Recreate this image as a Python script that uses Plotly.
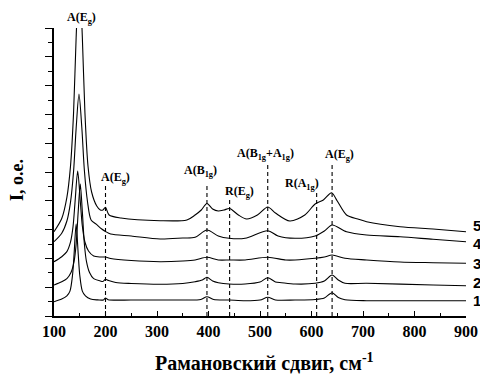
import plotly.graph_objects as go

# Raman spectra (arbitrary intensity units, curves offset vertically)
x1 = [100,115,125,131,136,139,143,147,150,155,161,171,185,196,200,205,250,306,350,385,397,410,440,471,500,515,530,568,607,625,640,652,665,707,800,900]
y1 = [14.3,16.9,20.1,24.9,41,62,92,62,41,24.9,20.1,16.9,16.1,16,18,16.3,16,16,16,16.5,19.3,16.5,16,15.3,16,18.7,16,16,16.5,18,23.3,18.5,16.3,15.3,15.3,15.3]

x2 = [100,115,125,133,139,143,147,151,155,159,163,169,177,190,195,200,206,220,250,306,350,374,388,397,408,419,440,471,500,515,530,542,568,607,625,640,652,665,707,836,900]
y2 = [31,34.2,37.4,43.5,54.7,71.8,104.5,132,104.5,71.8,54.7,43.5,37.4,35,34.5,36.7,35.5,33.5,32.5,31.7,32.5,34.3,36,38.7,35,33.3,32,32,34,38.3,34,33.3,32,32.7,35,41,36,32.7,32.7,31,30.3]

x3 = [100,115,125,132,137,141,146,151,155,160,167,177,190,200,210,250,306,350,374,397,419,441,471,515,550,568,607,625,640,665,707,772,836,900]
y3 = [54.3,59.3,64.4,73.8,89.6,114.9,145,115,90,74,65,60,59,59,57.5,55.5,54.3,55,56,58.7,56,56,56,58.7,56,56,57.7,59,61,57.7,56,54,53.3,52.7]

x4 = [100,115,125,132,138,143,148.5,154,159,165,172,182,192,200,210,250,306,350,374,397,419,440,471,515,535,568,607,625,640,668,707,772,836,900]
y4 = [74.3,82.8,95,113.7,144.6,187.6,222,188.5,145.5,114.5,96,91.8,87.2,84.5,82,80,77,78,78.7,86,80,77.7,77.7,85.3,80,77.7,80,85,91,84.3,81,79.3,76.7,74.3]

x5 = [100,115,125,132,138,143,149,155,160,166,173,183,190,195,200,207,230,306,358,374,386,397,408,419,430,441,458,474,495,515,530,558,587,607,623,639,650,668,690,707,772,836,900]
y5 = [84.3,97.5,118.6,149.6,203.4,278.4,345,279,204,150,124,110,106,106,108.7,101,98,95.3,96,101,106,112.5,107,105,106,107.5,101,97,101,109,103,95,101,112,116,123.3,115,101,97,94.3,89.3,87,84.3]

series_x = [x1, x2, x3, x4, x5]
series_y = [y1, y2, y3, y4, y5]
series_names = ["1", "2", "3", "4", "5"]
series_label_y = [16, 34, 53, 73, 91]

# Band positions (dashed markers) and their top heights
band_x = [200, 397, 441, 515, 610, 640]
band_top = [131, 131, 116, 151, 124, 154]

# Band labels
label_text = ["A(E<sub>g</sub>)", "A(E<sub>g</sub>)", "A(B<sub>1g</sub>)", "R(E<sub>g</sub>)",
              "A(B<sub>1g</sub>+A<sub>1g</sub>)", "R(A<sub>1g</sub>)", "A(E<sub>g</sub>)"]
label_x = [154, 219, 385, 461, 511, 582, 655]
label_y = [298, 138, 145, 124, 162, 132, 161]

x_ticks = [100, 200, 300, 400, 500, 600, 700, 800, 900]
Y_MAX = 288

SERIF = "Liberation Serif, Times New Roman, serif"
SANS = "Liberation Sans, Arial, sans-serif"

fig = go.Figure()
for xs, ys, nm in zip(series_x, series_y, series_names):
    fig.add_trace(go.Scatter(x=xs, y=ys, mode="lines", name=nm,
                             line=dict(color="black", width=1.1, shape="spline", smoothing=0.8),
                             showlegend=False, hoverinfo="skip"))

for bx, bt in zip(band_x, band_top):
    fig.add_shape(type="line", xref="x", yref="y", x0=bx, x1=bx, y0=0, y1=bt,
                  line=dict(color="black", width=1.1, dash="4px,3px"))

for t, lx, ly in zip(label_text, label_x, label_y):
    fig.add_annotation(x=lx, y=ly / Y_MAX, xref="x", yref="paper", text=t, showarrow=False,
                       xanchor="center", yanchor="middle",
                       font=dict(family=SERIF, size=12, color="black", weight="bold"))

for nm, ly in zip(series_names, series_label_y):
    fig.add_annotation(x=1.012, y=ly / Y_MAX, xref="paper", yref="paper", text=nm, showarrow=False,
                       xanchor="left", yanchor="middle",
                       font=dict(family=SANS, size=15, color="black", weight="bold"))

fig.add_annotation(x=0.512, y=-0.158, xref="paper", yref="paper",
                   text="Рамановский сдвиг, см<sup>-1</sup>", showarrow=False,
                   xanchor="center", yanchor="middle",
                   font=dict(family=SERIF, size=20, color="black", weight="bold"))
fig.add_annotation(x=-0.0898, y=0.472, xref="paper", yref="paper",
                   text="I, o.e.", showarrow=False, textangle=-90,
                   xanchor="center", yanchor="middle",
                   font=dict(family=SERIF, size=18, color="black", weight="bold"))

fig.update_layout(
    width=480, height=374,
    margin=dict(l=54, r=14, t=28, b=58, autoexpand=False),
    paper_bgcolor="white", plot_bgcolor="white",
    xaxis=dict(range=[100, 900], tickvals=x_ticks, ticks="inside", ticklen=5, tickwidth=1.2,
               automargin=False,
               tickcolor="black", minor=dict(dtick=50, tick0=100, ticks="inside", ticklen=3,
                                             tickwidth=1.2, tickcolor="black"),
               showline=True, linecolor="black", linewidth=1.5, showgrid=False, zeroline=False,
               tickfont=dict(family=SERIF, size=16, color="black", weight="bold")),
    yaxis=dict(range=[0, Y_MAX], tick0=0, dtick=28.8, ticks="outside", ticklen=7, tickwidth=1.2,
               automargin=False,
               tickcolor="black", minor=dict(dtick=14.4, tick0=0, ticks="outside", ticklen=4,
                                             tickwidth=1.2, tickcolor="black"),
               showticklabels=False, showline=True, linecolor="black", linewidth=1.5,
               showgrid=False, zeroline=False),
)

fig.write_html("out.html", config={"displayModeBar": False},
               post_script="document.body.style.margin='0';document.body.style.overflow='hidden';")
